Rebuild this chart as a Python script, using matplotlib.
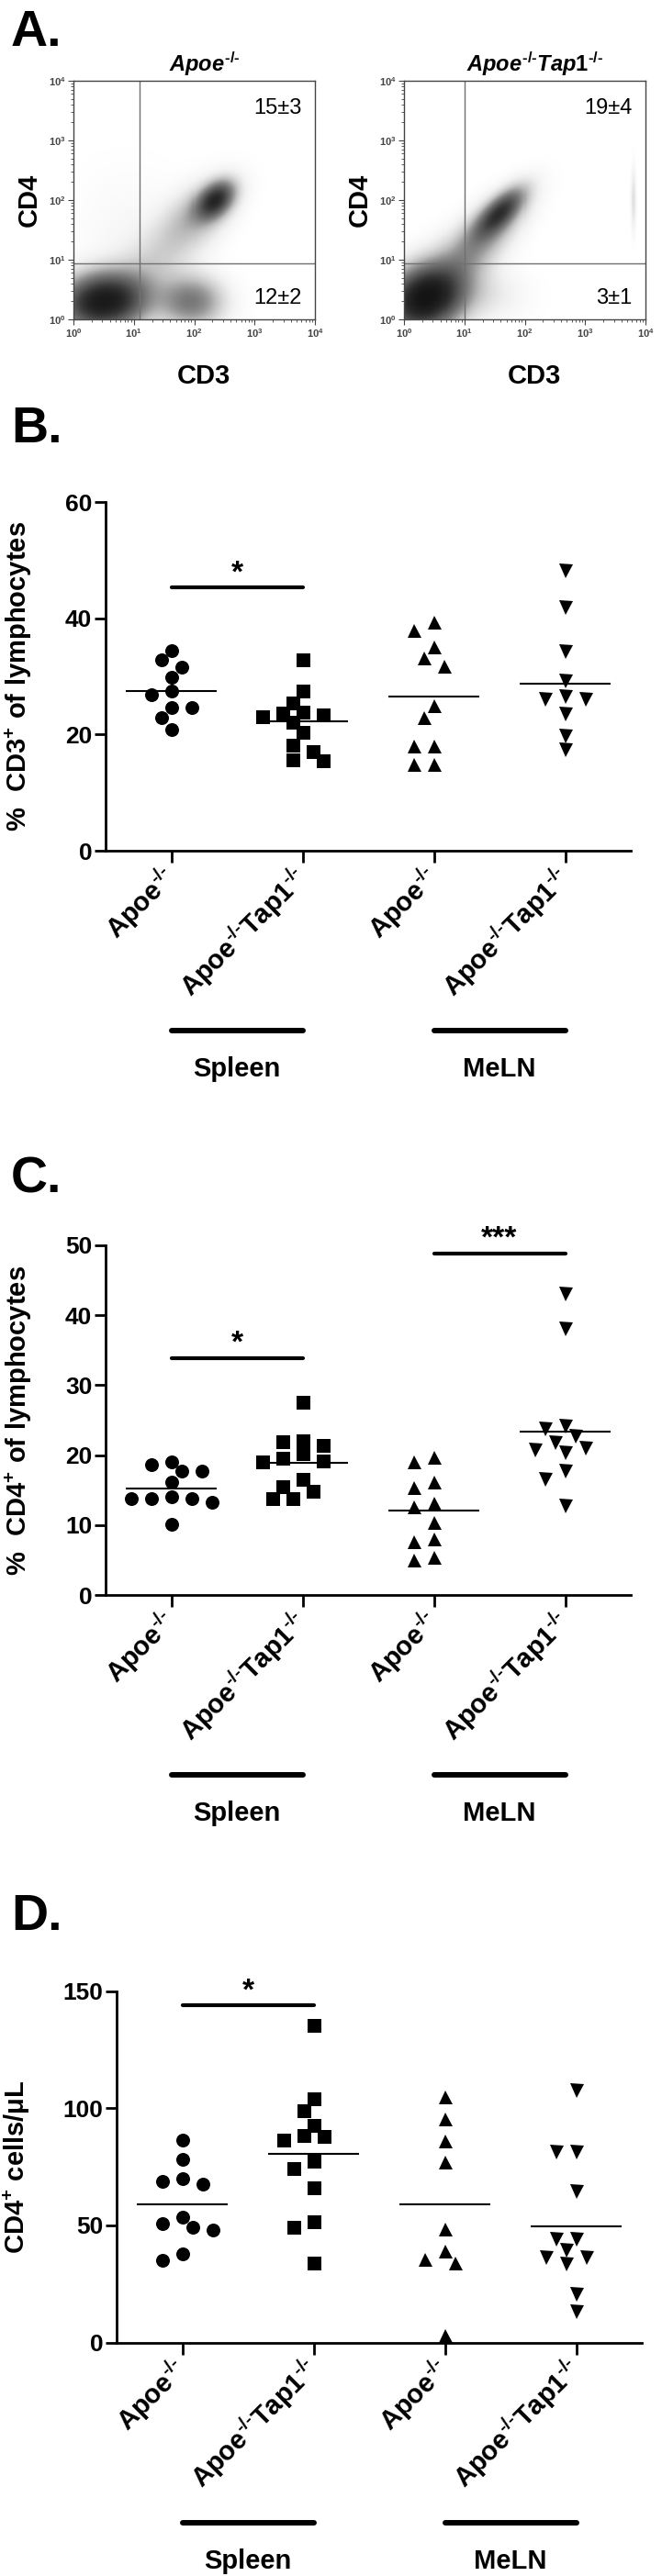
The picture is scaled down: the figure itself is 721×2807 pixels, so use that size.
import numpy as np
import matplotlib
matplotlib.use('Agg')
import matplotlib.pyplot as plt
from matplotlib.ticker import LogLocator, FuncFormatter, NullFormatter

plt.rcParams['font.family'] = ['Liberation Sans', 'DejaVu Sans']
plt.rcParams['font.weight'] = 'bold'
plt.rcParams['mathtext.fontset'] = 'custom'
plt.rcParams['mathtext.rm'] = 'Liberation Sans'
plt.rcParams['mathtext.it'] = 'Liberation Sans:italic:bold'
plt.rcParams['mathtext.bf'] = 'Liberation Sans:bold'
plt.rcParams['mathtext.default'] = 'bf'

### Daten ###
KO = '^{\u2010/\u2010}'
groups = ['$Apoe' + KO + '$', '$Apoe' + KO + 'Tap1' + KO + '$',
          '$Apoe' + KO + '$', '$Apoe' + KO + 'Tap1' + KO + '$']
tissues = ['Spleen', 'MeLN']
markers = ['o', 's', '^', 'v']

# B: % CD3+ of lymphocytes
cd3_apoe_spl = [34.4, 32.9, 31.6, 29.9, 27.4, 26.8, 24.6, 24.7, 22.9, 20.9]
cd3_tap_spl = [32.8, 27.4, 25.4, 23.9, 23.3, 23.7, 23.0, 22.1, 20.3, 18.2, 17.1, 15.5, 15.7]
cd3_apoe_mln = [39.3, 37.9, 35.0, 33.2, 31.8, 25.0, 22.9, 18.0, 18.0, 14.8, 14.8]
cd3_tap_mln = [48.2, 41.8, 34.2, 29.2, 26.6, 26.1, 26.1, 23.5, 19.8, 17.4]
cd3_means = [27.4, 22.3, 26.6, 28.7]

# C: % CD4+ of lymphocytes
cd4_apoe_spl = [18.6, 19.0, 17.7, 17.7, 16.2, 13.8, 14.0, 13.3, 13.8, 13.8, 10.1]
cd4_tap_spl = [27.5, 21.9, 22.1, 21.4, 19.2, 20.2, 19.0, 19.6, 16.5, 14.9, 15.5, 13.8, 13.8]
cd4_apoe_mln = [19.0, 19.7, 15.4, 16.2, 13.2, 12.6, 10.4, 7.7, 8.0, 5.0, 5.4]
cd4_tap_mln = [43.0, 38.0, 24.2, 23.8, 22.7, 21.8, 21.0, 20.3, 20.7, 17.7, 16.5, 12.8]
cd4_means = [15.2, 18.9, 12.1, 23.4]

# D: CD4+ cells/uL
cnt_apoe_spl = [86.5, 78.3, 70.0, 67.6, 68.9, 53.5, 49.3, 48.0, 50.9, 35.2, 37.9]
cnt_tap_spl = [135.5, 104.1, 98.9, 92.7, 88.2, 86.5, 87.8, 77.4, 74.1, 66.0, 51.7, 49.3, 34.1]
cnt_apoe_mln = [105.0, 95.3, 85.9, 77.1, 48.6, 38.9, 35.7, 34.0, 3.0]
cnt_tap_mln = [107.5, 81.2, 81.2, 64.5, 44.1, 44.1, 39.4, 36.3, 36.3, 33.5, 20.6, 13.1]
cnt_means = [58.9, 80.7, 59.0, 49.6]

# A: Populationen (log10 Dekaden): Gewicht, CD3-Mitte, CD4-Mitte, sd CD3, sd CD4, Korrelation
flow_titles = [r'$\mathit{Apoe}' + KO + '$', r'$\mathit{Apoe}' + KO + r'\mathit{Tap1}' + KO + '$']
flow_upper = ['15\u00b13', '19\u00b14']
flow_lower = ['12\u00b12', '3\u00b11']
pop_w_apoe = [0.5, 0.14, 0.10, 0.10, 0.08, 0.04]
pop_cx_apoe = [0.5, 1.95, 2.35, 2.05, 1.3, 0.9]
pop_cy_apoe = [0.3, 0.3, 2.0, 1.75, 0.9, 1.5]
pop_sx_apoe = [0.45, 0.35, 0.2, 0.4, 0.5, 0.6]
pop_sy_apoe = [0.3, 0.28, 0.2, 0.38, 0.45, 0.7]
pop_r_apoe = [0.1, 0.0, 0.4, 0.5, 0.5, 0.0]
pop_w_tap = [0.55, 0.10, 0.12, 0.04, 0.004, 0.10]
pop_cx_tap = [0.35, 1.6, 1.4, 1.3, 3.8, 0.9]
pop_cy_tap = [0.35, 1.8, 1.5, 0.4, 2.0, 0.9]
pop_sx_tap = [0.4, 0.25, 0.42, 0.45, 0.03, 0.45]
pop_sy_tap = [0.35, 0.25, 0.42, 0.3, 0.35, 0.45]
pop_r_tap = [0.2, 0.7, 0.7, 0.0, 0.0, 0.5]
gate_x = [10**1.1, 10**1.0]
gate_y = [10**0.94, 10**0.94]

W, H = 721, 2807
fig = plt.figure(figsize=(W/100, H/100), dpi=100)

def px_axes(l, t, r, b):
    return fig.add_axes([l/W, 1-b/H, (r-l)/W, (b-t)/H])

def gauss(X, Y, cx, cy, sx, sy, r):
    dx = (X-cx)/sx
    dy = (Y-cy)/sy
    z = (dx**2 - 2*r*dx*dy + dy**2)/(1-r**2)
    return np.exp(-z/2)/(2*np.pi*sx*sy*np.sqrt(1-r**2))

### A: Durchflusszytometrie ###
edges = np.linspace(0, 4, 261)
cent = (edges[:-1]+edges[1:])/2
GX, GY = np.meshgrid(cent, cent)
flow_pops = [(pop_w_apoe, pop_cx_apoe, pop_cy_apoe, pop_sx_apoe, pop_sy_apoe, pop_r_apoe),
             (pop_w_tap, pop_cx_tap, pop_cy_tap, pop_sx_tap, pop_sy_tap, pop_r_tap)]
flow_left = [80, 440]
for k in range(2):
    l = flow_left[k]
    ax = px_axes(l, 88, l+263, 348)
    dens = np.zeros_like(GX)
    for w, cx, cy, sx, sy, r in zip(*flow_pops[k]):
        dens += w*gauss(GX, GY, cx, cy, sx, sy, r)
    shade = 1-np.exp(-dens*4.0)
    ax.pcolormesh(10**edges, 10**edges, shade, cmap='Greys', vmin=0, vmax=1.0,
                  shading='flat', rasterized=True)
    ax.set_xscale('log')
    ax.set_yscale('log')
    ax.set_xlim(1, 1e4)
    ax.set_ylim(1, 1e4)
    ax.axvline(gate_x[k], color='#707070', lw=1)
    ax.axhline(gate_y[k], color='#707070', lw=1)
    for s in ax.spines.values():
        s.set_color('#444444')
        s.set_linewidth(1)
    for a in (ax.xaxis, ax.yaxis):
        a.set_major_locator(LogLocator(base=10, numticks=10))
        a.set_minor_locator(LogLocator(base=10, subs=np.arange(2, 10), numticks=10))
        a.set_major_formatter(FuncFormatter(lambda v, p: r'$\mathrm{10^{%d}}$' % round(np.log10(v))))
        a.set_minor_formatter(NullFormatter())
    ax.tick_params(which='major', length=4, width=0.8, colors='#444444', labelsize=8, pad=2)
    ax.tick_params(which='minor', length=2, width=0.6, colors='#444444')
    ax.text(0.945, 0.885, flow_upper[k], transform=ax.transAxes, ha='right', va='center',
            fontsize=17, fontweight='normal')
    ax.text(0.945, 0.088, flow_lower[k], transform=ax.transAxes, ha='right', va='center',
            fontsize=17, fontweight='normal')
    fig.text((l+143)/W, 1-70/H, flow_titles[k], ha='center', va='center', fontsize=17)
    fig.text((l-48)/W, 1-218/H, 'CD4', ha='center', va='center', rotation=90, fontsize=21)
    fig.text((l+142)/W, 1-410/H, 'CD3', ha='center', va='center', fontsize=21)

### B-D: Punktdiagramme ###
def swarm(vals, ppu_y, ppu_x=143.0, diam=14.5, step=11.0):
    vals = np.asarray(vals, float)
    offs = np.zeros(len(vals))
    placed = []
    for i in np.argsort(-vals, kind='stable'):
        y = vals[i]*ppu_y
        for kk in [0, -1, 1, -2, 2, -3, 3, -4, 4, -5, 5]:
            x = kk*step
            if all((x-px)**2 + (y-py)**2 >= diam**2 for px, py in placed):
                break
        placed.append((x, y))
        offs[i] = x/ppu_x
    return offs

panels = [
    dict(box=(115, 547, 687, 927), data=[cd3_apoe_spl, cd3_tap_spl, cd3_apoe_mln, cd3_tap_mln],
         means=cd3_means, ylim=60, yticks=[0, 20, 40, 60], ylabel=r'$\%\ \ CD3^{+}\ of\ lymphocytes$',
         sig=[(0, 1, 45.3, '*')], letter='B.', ltop=442, ylx=37),
    dict(box=(115, 1356.7, 687, 1738.3), data=[cd4_apoe_spl, cd4_tap_spl, cd4_apoe_mln, cd4_tap_mln],
         means=cd4_means, ylim=50, yticks=[0, 10, 20, 30, 40, 50], ylabel=r'$\%\ \ CD4^{+}\ of\ lymphocytes$',
         sig=[(0, 1, 33.9, '*'), (2, 3, 48.8, '***')], letter='C.', ltop=1260, ylx=37),
    dict(box=(127, 2169.6, 699, 2552.7), data=[cnt_apoe_spl, cnt_tap_spl, cnt_apoe_mln, cnt_tap_mln],
         means=cnt_means, ylim=150, yticks=[0, 50, 100, 150], ylabel='$CD4^{+}\\ cells/\u03bcL$',
         sig=[(0, 1, 143.9, '*')], letter='D.', ltop=2063, ylx=35),
]

for p in panels:
    l, t, r, b = p['box']
    ax = px_axes(l, t, r, b)
    hpx = b-t
    ppu_y = hpx/p['ylim']
    for i, vals in enumerate(p['data']):
        offs = swarm(vals, ppu_y)
        ax.plot(i+offs, vals, linestyle='none', marker=markers[i], markersize=10.8,
                color='black', markeredgewidth=0, clip_on=False)
        ax.hlines(p['means'][i], i-0.343, i+0.343, color='black', lw=1.5)
    for i0, i1, yb, lab in p['sig']:
        ax.plot([i0, i1], [yb, yb], color='black', lw=3, solid_capstyle='round', clip_on=False)
        ax.annotate(lab, xy=((i0+i1)/2, yb), xytext=(0, 5), textcoords='offset points',
                    ha='center', va='baseline', fontsize=24, annotation_clip=False)
    ax.set_xlim(-0.5, 3.5)
    ax.set_ylim(0, p['ylim'])
    ax.set_yticks(p['yticks'])
    ax.set_xticks(range(4))
    ax.set_xticklabels(groups, rotation=45, ha='right', va='center', rotation_mode='anchor')
    ax.spines['top'].set_visible(False)
    ax.spines['right'].set_visible(False)
    ax.spines['left'].set_linewidth(2)
    ax.spines['bottom'].set_linewidth(2)
    ax.tick_params(axis='y', length=8.6, width=2, labelsize=19, pad=2)
    ax.tick_params(axis='x', length=9.4, width=2, labelsize=21, pad=8)
    ax.set_ylabel(p['ylabel'], fontsize=21)
    ax.yaxis.set_label_coords(-(l-p['ylx'])/(r-l), 0.5)
    tr = ax.get_xaxis_transform()
    for j, name in enumerate(tissues):
        ax.plot([2*j, 2*j+1], [-196/hpx, -196/hpx], transform=tr, color='black', lw=4.3,
                solid_capstyle='round', clip_on=False)
        ax.text(2*j+0.5, -238/hpx, name, transform=tr, ha='center', va='center', fontsize=21)
    fig.text(12/W, 1-p['ltop']/H, p['letter'], ha='left', va='top', fontsize=40)

fig.text(12/W, 1-10/H, 'A.', ha='left', va='top', fontsize=40)

plt.savefig('out.png', dpi=100)
plt.close()
